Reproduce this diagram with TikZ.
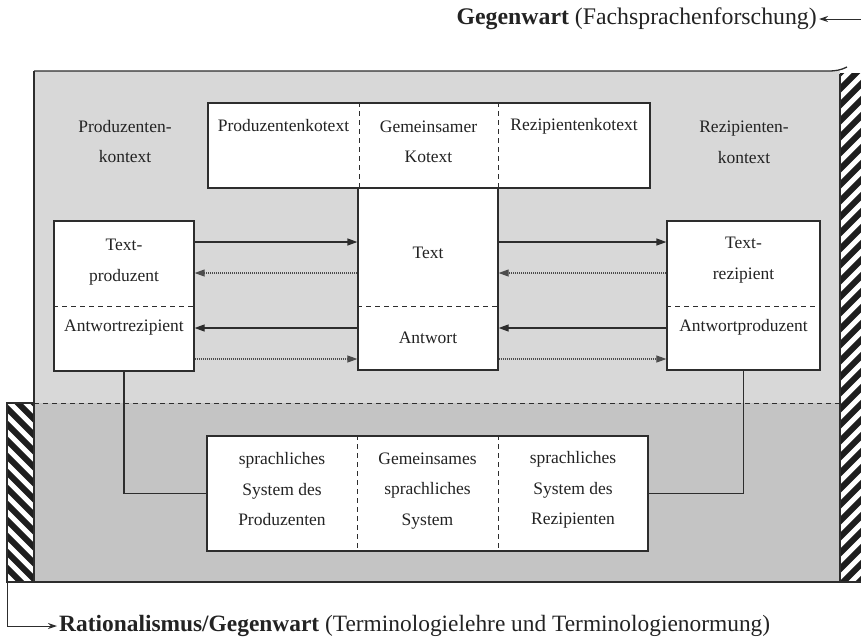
\documentclass[tikz,border=0pt]{standalone}
\usepackage{fontspec}
\setmainfont{Liberation Serif}
\usetikzlibrary{arrows.meta}
\definecolor{gA}{RGB}{216,216,216}
\definecolor{gB}{RGB}{196,196,196}
\definecolor{linec}{RGB}{45,45,45}
\definecolor{txt}{RGB}{35,35,35}
\definecolor{hatchc}{RGB}{30,30,30}
\begin{document}
\begin{tikzpicture}[x=1pt,y=-1pt,
  box/.style={draw=linec, line width=1.3pt, fill=white, inner sep=0pt},
  lbl/.style={font=\fontsize{17.5}{30.5}\selectfont, align=center, inner sep=0pt, text=txt},
  sarrow/.style={draw=linec, line width=1.3pt, -{Triangle[length=10pt,width=7pt]}},
  darrow/.style={draw=linec!85, line width=1.1pt, dash pattern=on 1pt off 1pt, -{Triangle[length=10pt,width=7pt]}},
  larrow/.style={draw=linec, line width=1pt, -{Stealth[length=9pt,width=6pt]}},
  frame/.style={draw=linec, line width=1.3pt},
  dline/.style={draw=linec, line width=1pt, dash pattern=on 5pt off 4pt},
  biglbl/.style={text=txt, inner sep=2pt}]
\useasboundingbox (0,0) rectangle (861,638);
% grey areas
\fill[gA] (34,71) rectangle (840,403);
\fill[gB] (34,403) rectangle (840,582);
% hatched bars
\begin{scope}
  \clip (7,403) rectangle (34,582);
  \fill[white] (7,403) rectangle (34,582);
  \foreach \k in {0,...,14} \draw[hatchc, line width=6pt] (-33,336+16*\k) -- ++(130,130);
\end{scope}
\begin{scope}
  \clip (840,73) rectangle (861,582);
  \fill[white] (840,73) rectangle (861,582);
  \foreach \k in {0,...,35} \draw[hatchc, line width=6pt] (800,113+16*\k) -- ++(130,-130);
\end{scope}
% frame lines
\draw[frame] (34,71) -- (828,71) .. controls (836,71) and (841,70) .. (847,67);
\draw[frame] (34,71) -- (34,403);
\draw[frame] (7,403) rectangle (34,582);
\draw[frame] (7,582) -- (861,582);
\draw[frame] (840,74) -- (840,582);
\draw[dline] (34,403) -- (840,403);
% boxes
\node[box, minimum width=442, minimum height=85] (tb) at (429,145.5) {};
\node[box, minimum width=140, minimum height=182] (mid) at (428,279) {};
\node[box, minimum width=140, minimum height=150] (lb) at (124,296) {};
\node[box, minimum width=153, minimum height=149] (rb) at (743.5,295.5) {};
\node[box, minimum width=441, minimum height=115] (bb) at (427.5,493.5) {};
% dividers
\coordinate (ydiv) at (0,306);
\coordinate (xa) at (359,0);
\coordinate (xb) at (498,0);
\coordinate (xc) at (357,0);
\draw[dline] (xa |- tb.north) -- (xa |- tb.south);
\draw[dline] (xb |- tb.north) -- (xb |- tb.south);
\draw[dline] (mid.west |- ydiv) -- (mid.east |- ydiv);
\draw[dline] (lb.west |- ydiv) -- (lb.east |- ydiv);
\draw[dline] (rb.west |- ydiv) -- (rb.east |- ydiv);
\draw[dline] (xc |- bb.north) -- (xc |- bb.south);
\draw[dline] (xb |- bb.north) -- (xb |- bb.south);
% texts
\node[lbl] (pk) at (125,141.5) {Produzenten-\\kontext};
\node[lbl] (rk) at (744,142.5) {Rezipienten-\\kontext};
\node[lbl] (t1) at (283.5,126) {Produzentenkotext};
\node[lbl] (t2) at (428.5,142) {Gemeinsamer\\Kotext};
\node[lbl] (t3) at (574,126) {Rezipientenkotext};
\node[lbl] (tx) at (428,253) {Text};
\node[lbl] (an) at (428,338) {Antwort};
\node[lbl] (tp) at (124,262) {Text-\\produzent};
\node[lbl] (ar) at (124,328) {Antwortrezipient};
\node[lbl] (tr) at (743.5,260) {Text-\\rezipient};
\node[lbl] (ap) at (743.5,327) {Antwortproduzent};
\node[lbl] (s1) at (282,489.5) {sprachliches\\System des\\Produzenten};
\node[lbl] (s2) at (427.5,491) {Gemeinsames\\sprachliches\\System};
\node[lbl] (s3) at (573,490) {sprachliches\\System des\\Rezipienten};
% arrows
\coordinate (ya) at (0,242);
\coordinate (yb) at (0,273);
\coordinate (yc) at (0,328);
\coordinate (yd) at (0,359);
\draw[sarrow] (lb.east |- ya) -- (mid.west |- ya);
\draw[darrow] (mid.west |- yb) -- (lb.east |- yb);
\draw[sarrow] (mid.west |- yc) -- (lb.east |- yc);
\draw[darrow] (lb.east |- yd) -- (mid.west |- yd);
\draw[sarrow] (mid.east |- ya) -- (rb.west |- ya);
\draw[darrow] (rb.west |- yb) -- (mid.east |- yb);
\draw[sarrow] (rb.west |- yc) -- (mid.east |- yc);
\draw[darrow] (mid.east |- yd) -- (rb.west |- yd);
% connectors to bottom box
\draw[frame] (lb.south) |- (bb.west);
\draw[frame] (rb.south) |- (bb.east);
% outer labels
\node[biglbl, anchor=east, font=\fontsize{23.8}{28}\selectfont] (gw) at (819,19) {\textbf{Gegenwart} (Fachsprachenforschung)};
\coordinate (gwend) at (861,19);
\draw[larrow] (gwend) -- (gw.east);
\node[biglbl, anchor=west, font=\fontsize{23.4}{28}\selectfont] (rat) at (57,626) {\textbf{Rationalismus/Gegenwart} (Terminologielehre und Terminologienormung)};
\coordinate (lcorner) at (7,582);
\draw[larrow] (lcorner) |- (rat.west);
\end{tikzpicture}
\end{document}
